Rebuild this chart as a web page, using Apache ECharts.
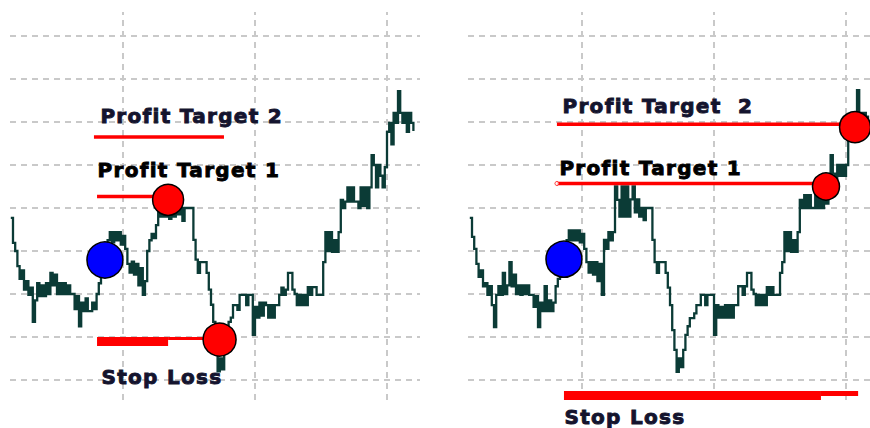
<!DOCTYPE html>
<html>
<head>
<meta charset="utf-8">
<script src="https://cdn.jsdelivr.net/npm/echarts@6/dist/echarts.min.js"></script>
<style>
  html, body { margin: 0; padding: 0; background: #ffffff; }
  #chart { width: 870px; height: 428px; }
  #chart text { letter-spacing: 1.3px; white-space: pre; }
</style>
</head>
<body>
<div id="chart"></div>
<script>
// ---- price path, scenario A (left): one close per bar, starting at bar -1
const leftStartBar = -1;
const leftPrices = [
  57.7, 51.9, 50.0, 46.5, 43.5, 45.5, 41.0, 43.0, 39.8, 41.5,
  33.5, 38.5, 42.5, 39.5, 42.0, 39.5, 42.5, 40.0, 44.9, 42.0,
  44.5, 40.0, 42.5, 40.0, 42.5, 40.0, 42.0, 40.0, 40.0, 36.5,
  39.5, 32.5, 38.0, 36.0, 39.0, 36.0, 36.0, 38.0, 36.5, 40.0,
  42.5, 44.5, 47.5, 50.0, 52.5, 54.4, 52.0, 54.4, 52.5, 54.4,
  51.5, 53.5, 50.5, 47.0, 45.0, 47.5, 44.5, 47.0, 42.0, 46.0,
  39.8, 43.0, 50.0, 52.5, 54.0, 53.0, 56.0, 59.5, 58.0, 60.5,
  58.0, 60.5, 57.5, 60.0, 58.0, 60.5, 58.5, 60.0, 57.0, 60.0,
  60.0, 60.0, 60.0, 52.6, 48.0, 44.9, 47.4, 47.4, 47.4, 44.9,
  41.0, 37.5, 33.5, 27.0, 22.0, 25.0, 22.5, 30.5, 32.0, 33.5,
  34.5, 37.4, 37.4, 36.3, 39.8, 39.8, 39.8, 37.4, 39.8, 39.8,
  30.5, 37.0, 34.5, 38.0, 35.0, 38.0, 37.4, 34.5, 37.4, 34.5,
  37.4, 37.4, 39.8, 41.5, 39.8, 41.0, 44.9, 44.9, 41.0, 40.0,
  37.4, 39.8, 37.4, 39.8, 37.4, 41.6, 39.8, 41.6, 41.6, 39.8,
  39.8, 39.8, 47.4, 54.4, 50.0, 54.4, 49.8, 52.5, 49.8, 54.4,
  61.9, 60.0, 61.5, 64.8, 61.5, 64.8, 61.5, 61.5, 60.0, 64.8,
  60.5, 64.8, 60.0, 64.8, 72.3, 70.0, 64.8, 70.0, 67.5, 64.8,
  69.5, 77.7, 79.8, 74.8, 82.1, 79.8, 87.2, 82.1, 79.8, 82.1,
  77.7, 82.1, 79.8, 77.9
];

// ---- price path, scenario B (right)
const rightStartBar = -1;
const rightPrices = [
  57.7, 53.3, 50.5, 47.0, 44.0, 45.5, 41.8, 42.5, 39.8, 41.8,
  37.4, 32.3, 39.8, 41.8, 39.8, 44.9, 40.0, 42.0, 47.4, 41.8,
  44.5, 40.0, 42.0, 39.8, 42.0, 40.0, 42.0, 39.8, 39.8, 37.0,
  39.5, 32.3, 38.0, 36.0, 41.8, 36.0, 38.5, 36.0, 38.0, 41.8,
  43.5, 45.5, 48.0, 50.0, 52.5, 54.8, 52.5, 54.8, 52.5, 54.8,
  52.0, 54.0, 50.5, 47.4, 45.0, 47.4, 44.5, 47.4, 43.0, 47.0,
  39.8, 52.6, 50.5, 54.4, 52.5, 54.4, 65.0, 61.9, 58.0, 65.0,
  58.0, 65.0, 58.0, 62.0, 65.0, 59.0, 62.0, 58.0, 60.0, 57.2,
  60.0, 60.0, 60.0, 52.6, 47.4, 44.9, 47.4, 47.4, 47.4, 44.9,
  41.5, 37.4, 31.6, 27.0, 21.9, 25.0, 23.0, 27.0, 30.5, 32.5,
  34.4, 34.4, 35.5, 37.4, 37.4, 39.8, 39.8, 37.4, 39.8, 39.8,
  39.8, 30.5, 37.4, 34.5, 37.0, 34.5, 37.4, 34.5, 37.4, 34.5,
  37.4, 37.4, 41.8, 41.8, 39.8, 41.8, 44.9, 44.9, 41.0, 40.0,
  37.4, 39.8, 37.4, 39.8, 37.4, 41.6, 39.8, 41.6, 39.8, 39.8,
  39.8, 44.9, 47.4, 54.4, 50.0, 54.4, 49.8, 52.5, 49.8, 54.4,
  61.9, 60.0, 63.0, 60.0, 63.0, 60.0, 60.0, 63.0, 60.0, 64.0,
  60.0, 64.0, 61.0, 67.0, 72.3, 68.0, 65.0, 70.0, 67.5, 70.0,
  67.5, 70.0, 77.7, 80.5, 79.0, 82.1, 87.4, 82.1, 79.8, 82.1,
  79.8, 81.5
];

// ---- reference grid levels
const gridPrices = [20, 30, 40, 50, 60, 70, 80, 90, 100];
const gridBars = [50, 110, 170];

// ---- trade levels, scenario A  ([bar, price] pairs)
const leftEntry = [41.8, 47.9];
const leftExits = [[70.5, 61.9], [93.9, 29.4]];
const leftTarget2 = [[36.8, 76.5], [95.9, 76.5]];
const leftTarget1 = [[38.2, 62.7], [66.8, 62.7]];
const leftStopMain = [[38.2, 28.95], [70.5, 28.95]];
const leftStopTail = [[70.5, 29.65], [86.4, 29.65]];
const leftLabels = ['Profit Target 2', 'Profit Target 1', 'Stop Loss'];
const leftLabelAt = [[39.5, 81.5], [38.2, 68.8], [40.0, 20.7]];

// ---- trade levels, scenario B
const rightEntry = [41.8, 48.1];
const rightExits = [[160.9, 65.0], [174.1, 78.8]];
const rightTarget2 = [[38.6, 79.5], [174.0, 79.5]];
const rightTarget1 = [[38.6, 65.7], [160.9, 65.7]];
const rightStopMain = [[41.8, 16.4], [158.6, 16.4]];
const rightStopTail = [[158.6, 16.86], [175.5, 16.86]];
const rightLabels = ['Profit Target  2', 'Profit Target 1', 'Stop Loss'];
const rightLabelAt = [[40.9, 83.7], [39.5, 69.3], [41.8, 11.4]];

const PRICE_COLOR = '#0b3b36';
const RED = '#ff0000';
const labelColors = ['#14142e', '#000000', '#14142e'];

function toSeriesData(start, prices) {
  return prices.map((p, i) => [start + i, p]);
}

function gridMarkLine() {
  return {
    silent: true,
    z: 1,
    symbol: 'none',
    animation: false,
    label: { show: false },
    lineStyle: { color: '#c9c9c9', type: [6, 5], width: 2 },
    data: gridPrices.map(v => ({ yAxis: v })).concat(gridBars.map(v => ({ xAxis: v })))
  };
}

function panelSeries(idx, start, prices, entry, exits, exitSizes, t2, t1, sMain, sTail, tailWidth, labels, labelAt) {
  const axes = { xAxisIndex: idx, yAxisIndex: idx };
  const seg = (data, width, z) => Object.assign({
    type: 'line', data: data, symbol: 'none', silent: true, z: z,
    lineStyle: { color: RED, width: width, cap: 'butt' }
  }, axes);
  return [
    Object.assign({
      type: 'line', step: 'end', data: toSeriesData(start, prices),
      symbol: 'none', silent: true, z: 3,
      lineStyle: { color: PRICE_COLOR, width: 2.3, join: 'miter' },
      markLine: gridMarkLine()
    }, axes),
    seg(t2, 3.5, 4),
    seg(t1, 3.5, 4),
    seg(sMain, 9, 4),
    seg(sTail, tailWidth, 4),
    Object.assign({
      type: 'scatter', silent: true, z: 6,
      data: [{ value: entry, symbolSize: 36 }],
      itemStyle: { color: '#0000ff', borderColor: '#000000', borderWidth: 1.5, opacity: 1 }
    }, axes),
    Object.assign({
      type: 'scatter', silent: true, z: 6,
      data: exits.map((e, i) => ({ value: e, symbolSize: exitSizes[i] })),
      itemStyle: { color: RED, borderColor: '#000000', borderWidth: 1.5, opacity: 1 }
    }, axes),
    Object.assign({
      type: 'scatter', silent: true, z: 7, clip: false,
      symbolSize: 1,
      itemStyle: { color: 'rgba(0,0,0,0)' },
      data: labels.map((name, i) => ({
        name: name, value: labelAt[i],
        label: { color: labelColors[i], textBorderColor: labelColors[i] }
      })),
      label: {
        show: true, position: 'right', distance: 0,
        formatter: '{b}', lineHeight: 20,
        color: '#000000', opacity: 1,
        textBorderColor: '#000000', textBorderWidth: 0.9,
        fontFamily: 'DejaVu Sans', fontWeight: 'bold', fontSize: 20
      }
    }, axes)
  ];
}

const series = []
  .concat(panelSeries(0, leftStartBar, leftPrices, leftEntry, leftExits, [31, 33],
    leftTarget2, leftTarget1, leftStopMain, leftStopTail, 3, leftLabels, leftLabelAt))
  .concat(panelSeries(1, rightStartBar, rightPrices, rightEntry, rightExits, [27, 31],
    rightTarget2, rightTarget1, rightStopMain, rightStopTail, 5, rightLabels, rightLabelAt));

// small open marker at the start of the right-hand first target line
series.push({
  type: 'scatter', xAxisIndex: 1, yAxisIndex: 1, silent: true, z: 5,
  data: [rightTarget1[0]], symbolSize: 4,
  itemStyle: { color: '#ffffff', borderColor: RED, borderWidth: 1 }
});

const chart = echarts.init(document.getElementById('chart'), null, { renderer: 'svg' });
chart.setOption({
  animation: false,
  backgroundColor: '#ffffff',
  grid: [
    { left: 10, top: 12, width: 410, height: 388 },
    { left: 468, top: 12, width: 402, height: 388 }
  ],
  xAxis: [
    { gridIndex: 0, type: 'value', min: -1.36, max: 185, show: false },
    { gridIndex: 1, type: 'value', min: -1.82, max: 180.9, show: false }
  ],
  yAxis: [
    { gridIndex: 0, type: 'value', min: 15.35, max: 105.58, show: false },
    { gridIndex: 1, type: 'value', min: 15.35, max: 105.58, show: false }
  ],
  series: series
});
</script>
</body>
</html>
